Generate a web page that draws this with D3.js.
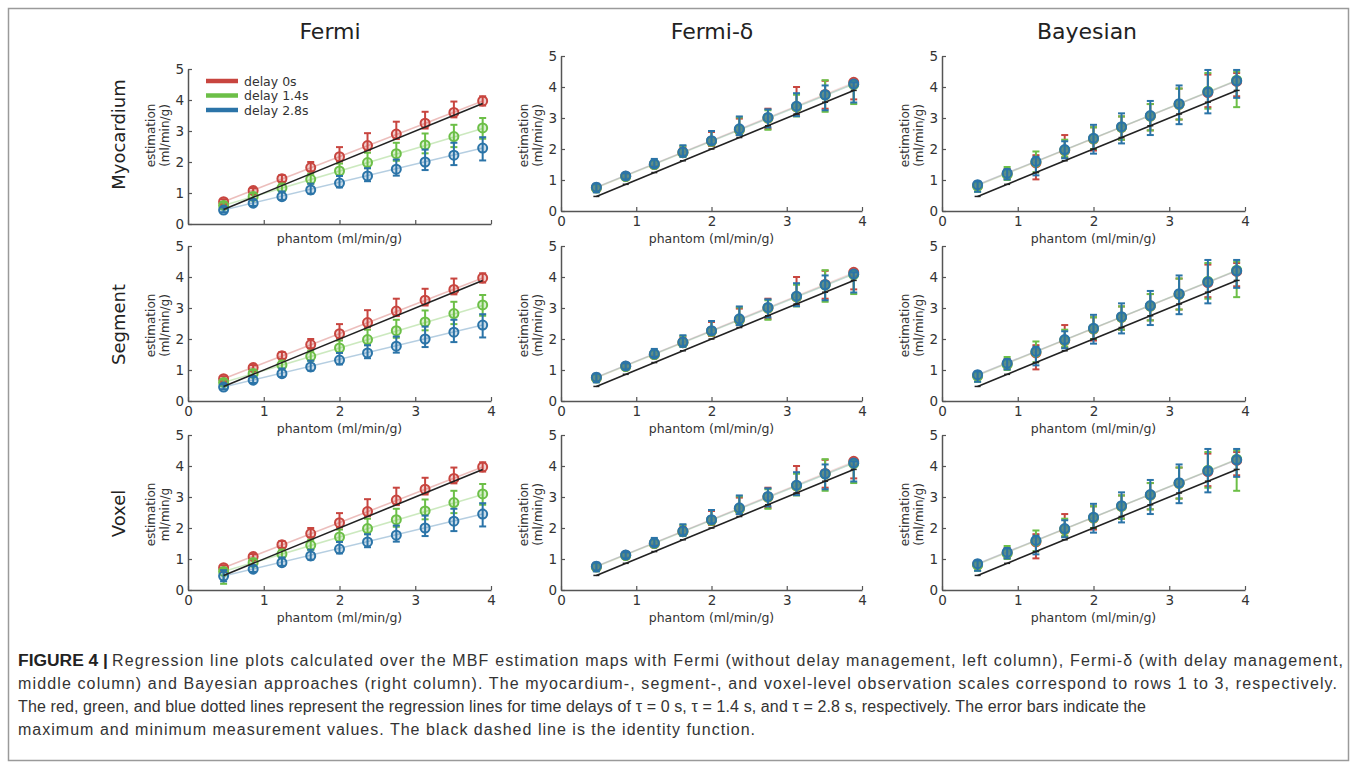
<!DOCTYPE html>
<html>
<head>
<meta charset="utf-8">
<script src="https://cdn.jsdelivr.net/npm/d3@7"></script>
<style>
  body { margin: 0; background: #fff; }
  svg { display: block; }
</style>
</head>
<body>
<div id="chart-area"></div>
<script>
// ---------------- data ----------------
var phantom = [0.47, 0.86, 1.24, 1.62, 2.0, 2.37, 2.75, 3.13, 3.51, 3.89];
var columns = ["Fermi", "Fermi-δ", "Bayesian"];
var rowNames = ["Myocardium", "Segment", "Voxel"];
var legendLabels = ["delay 0s", "delay 1.4s", "delay 2.8s"];
var xTicks = [0, 1, 2, 3, 4];
var yTicks = [0, 1, 2, 3, 4, 5];

// Fermi (no delay management)
var fermiRed = [0.72, 1.08, 1.46, 1.82, 2.17, 2.53, 2.90, 3.25, 3.60, 3.97];
var fermiRedLo = [0.64, 1.00, 1.36, 1.70, 2.02, 2.38, 2.74, 3.08, 3.44, 3.82];
var fermiRedHi = [0.80, 1.16, 1.58, 2.00, 2.48, 2.93, 3.30, 3.62, 3.95, 4.12];
var fermiGreen = [0.60, 0.89, 1.16, 1.44, 1.71, 1.98, 2.27, 2.55, 2.82, 3.10];
var fermiGreenLo = [0.50, 0.80, 1.04, 1.30, 1.55, 1.80, 2.04, 2.28, 2.48, 2.75];
var fermiGreenHi = [0.70, 1.00, 1.30, 1.62, 1.95, 2.30, 2.62, 2.92, 3.20, 3.42];
var fermiBlue = [0.45, 0.67, 0.88, 1.10, 1.32, 1.55, 1.77, 2.00, 2.22, 2.45];
var fermiBlueLo = [0.38, 0.58, 0.78, 0.98, 1.18, 1.38, 1.56, 1.74, 1.90, 2.05];
var fermiBlueHi = [0.54, 0.78, 1.05, 1.30, 1.55, 1.80, 2.08, 2.40, 2.62, 2.80];
// voxel level has wider bars at the first point
var fermiVoxGreenLo = [0.20, 0.80, 1.04, 1.30, 1.55, 1.80, 2.04, 2.28, 2.48, 2.75];
var fermiVoxBlueLo = [0.28, 0.58, 0.78, 0.98, 1.18, 1.38, 1.56, 1.74, 1.90, 2.05];
var fermiVoxBlueHi = [0.64, 0.78, 1.05, 1.30, 1.55, 1.80, 2.08, 2.40, 2.62, 2.80];

// Fermi-delta
var fdRed = [0.75, 1.12, 1.50, 1.88, 2.25, 2.62, 3.00, 3.36, 3.76, 4.15];
var fdRedLo = [0.65, 1.05, 1.45, 1.80, 2.10, 2.45, 2.65, 3.10, 3.30, 3.60];
var fdRedHi = [0.85, 1.20, 1.62, 2.05, 2.55, 2.98, 3.30, 4.00, 4.20, 4.20];
var fdGreen = [0.74, 1.11, 1.50, 1.88, 2.25, 2.62, 3.00, 3.36, 3.74, 4.08];
var fdGreenLo = [0.62, 1.02, 1.40, 1.75, 2.12, 2.45, 2.62, 3.05, 3.20, 3.45];
var fdGreenHi = [0.86, 1.22, 1.65, 2.10, 2.58, 3.02, 3.25, 3.75, 4.22, 4.18];
var fdBlue = [0.77, 1.13, 1.52, 1.90, 2.27, 2.65, 3.02, 3.38, 3.75, 4.10];
var fdBlueLo = [0.60, 1.02, 1.42, 1.75, 2.15, 2.45, 2.70, 3.06, 3.25, 3.50];
var fdBlueHi = [0.88, 1.22, 1.68, 2.12, 2.58, 3.05, 3.28, 3.80, 4.05, 4.15];

// Bayesian
var bayRed = [0.82, 1.20, 1.55, 1.95, 2.32, 2.70, 3.06, 3.44, 3.82, 4.18];
var bayRedLo = [0.70, 1.05, 1.02, 1.72, 1.95, 2.30, 2.60, 2.95, 3.35, 3.70];
var bayRedHi = [0.92, 1.35, 1.80, 2.45, 2.70, 3.05, 3.45, 3.95, 4.40, 4.45];
var bayGreen = [0.80, 1.18, 1.58, 1.96, 2.33, 2.70, 3.06, 3.44, 3.86, 4.22];
var bayGreenLo = [0.62, 1.00, 1.25, 1.75, 2.00, 2.30, 2.60, 2.95, 3.30, 3.35];
var bayGreenHi = [0.92, 1.42, 1.92, 2.30, 2.70, 3.05, 3.45, 3.95, 4.45, 4.50];
var bayBlue = [0.85, 1.22, 1.60, 1.98, 2.35, 2.72, 3.08, 3.46, 3.84, 4.20];
var bayBlueLo = [0.62, 1.02, 1.15, 1.70, 1.85, 2.18, 2.45, 2.80, 3.15, 3.65];
var bayBlueHi = [0.95, 1.35, 1.75, 2.25, 2.78, 3.15, 3.55, 4.05, 4.55, 4.55];
var bayVoxGreenLo = [0.62, 1.00, 1.25, 1.75, 2.00, 2.30, 2.60, 2.95, 3.30, 3.20];

// regression line ends (value at first and last phantom point)
var fermiReg = [[0.72, 3.97], [0.60, 3.08], [0.45, 2.45]];
var fdReg = [[0.76, 4.14], [0.75, 4.10], [0.77, 4.10]];
var bayReg = [[0.84, 4.20], [0.82, 4.22], [0.85, 4.20]];

var colors = ["#c8453f", "#6cbf47", "#2b74a8"];

// series per panel [red, green, blue] -> {m, lo, hi}
function S(m, lo, hi) { return { m: m, lo: lo, hi: hi }; }
var fermiSeries = [S(fermiRed, fermiRedLo, fermiRedHi), S(fermiGreen, fermiGreenLo, fermiGreenHi), S(fermiBlue, fermiBlueLo, fermiBlueHi)];
var fermiVoxSeries = [S(fermiRed, fermiRedLo, fermiRedHi), S(fermiGreen, fermiVoxGreenLo, fermiGreenHi), S(fermiBlue, fermiVoxBlueLo, fermiVoxBlueHi)];
var fdSeries = [S(fdRed, fdRedLo, fdRedHi), S(fdGreen, fdGreenLo, fdGreenHi), S(fdBlue, fdBlueLo, fdBlueHi)];
var baySeries = [S(bayRed, bayRedLo, bayRedHi), S(bayGreen, bayGreenLo, bayGreenHi), S(bayBlue, bayBlueLo, bayBlueHi)];
var bayVoxSeries = [S(bayRed, bayRedLo, bayRedHi), S(bayGreen, bayVoxGreenLo, bayGreenHi), S(bayBlue, bayBlueLo, bayBlueHi)];

var panelSeries = [
  [fermiSeries, fdSeries, baySeries],
  [fermiSeries, fdSeries, baySeries],
  [fermiVoxSeries, fdSeries, bayVoxSeries]
];
var panelReg = [fermiReg, fdReg, bayReg];

var captionBold = "FIGURE 4 |";
var captionLines = [
  "Regression line plots calculated over the MBF estimation maps with Fermi (without delay management, left column), Fermi-δ (with delay management,",
  "middle column) and Bayesian approaches (right column). The myocardium-, segment-, and voxel-level observation scales correspond to rows 1 to 3, respectively.",
  "The red, green, and blue dotted lines represent the regression lines for time delays of τ = 0 s, τ = 1.4 s, and τ = 2.8 s, respectively. The error bars indicate the",
  "maximum and minimum measurement values. The black dashed line is the identity function."
];

// ---------------- layout ----------------
var W = 1357, H = 769;
var colX = [[188, 491], [561, 862], [942, 1245]];
var rowY = [[211, 56], [401, 246], [590, 435]];
var titleX = [330, 712, 1087];

var svg = d3.select("#chart-area").append("svg")
    .attr("width", W)
    .attr("height", H);

svg.append("rect")
    .attr("x", 8.5).attr("y", 8.5)
    .attr("width", 1340).attr("height", 752)
    .attr("fill", "none")
    .attr("stroke", "#9a9a9a")
    .attr("stroke-width", 1.5);

var FONT = "'DejaVu Sans', Verdana, sans-serif";

// column titles
columns.forEach(function(c, i) {
  svg.append("text")
      .attr("x", titleX[i]).attr("y", 39)
      .attr("text-anchor", "middle")
      .style("font-family", FONT)
      .style("font-size", "22px")
      .attr("fill", "#222")
      .text(c);
});

// row labels
rowNames.forEach(function(r, i) {
  var mid = (rowY[i][0] + rowY[i][1]) / 2 + 1;
  svg.append("text")
      .attr("transform", "translate(125," + mid + ") rotate(-90)")
      .attr("text-anchor", "middle")
      .style("font-family", FONT)
      .style("font-size", "18px")
      .attr("fill", "#222")
      .text(r);
});

rowNames.forEach(function(r, ri) {
  columns.forEach(function(c, ci) {
    // first panel of the top row sits slightly lower in the figure
    var shift = (ri === 0 && ci === 0) ? 13 : 0;
    var x = d3.scaleLinear().domain([0, 4]).range(colX[ci]);
    var y = d3.scaleLinear().domain([0, 5]).range([rowY[ri][0] + shift, rowY[ri][1] + shift]);
    var g = svg.append("g");

    // axes (MATLAB style: ticks inside)
    var xAxis = g.append("g")
        .attr("transform", "translate(0," + y(0) + ")")
        .call(d3.axisBottom(x).tickValues(xTicks).tickFormat(d3.format("d"))
          .tickSizeInner(-4).tickSizeOuter(0).tickPadding(5));
    var yAxis = g.append("g")
        .attr("transform", "translate(" + x(0) + ",0)")
        .call(d3.axisLeft(y).tickValues(yTicks).tickFormat(d3.format("d"))
          .tickSizeInner(-4).tickSizeOuter(0).tickPadding(4));
    [xAxis, yAxis].forEach(function(a) {
      a.select(".domain").attr("stroke", "#555").attr("stroke-width", 1.5);
      a.selectAll(".tick line").attr("stroke", "#555").attr("stroke-width", 1.2);
      a.selectAll(".tick text")
          .style("font-family", FONT)
          .style("font-size", "13.5px")
          .attr("fill", "#333");
    });
    if (shift) xAxis.selectAll(".tick text").remove();

    // axis titles
    var yl = (rowY[ri][0] + rowY[ri][1]) / 2 + 2;
    var unitText = ri === 2 && ci === 0 ? "ml/min/g" : "(ml/min/g)";
    g.append("text")
        .attr("transform", "translate(" + (colX[ci][0] - 33) + "," + yl + ") rotate(-90)")
        .attr("text-anchor", "middle")
        .style("font-family", FONT).style("font-size", "12px")
        .attr("fill", "#333")
        .text("estimation");
    g.append("text")
        .attr("transform", "translate(" + (colX[ci][0] - 19) + "," + yl + ") rotate(-90)")
        .attr("text-anchor", "middle")
        .style("font-family", FONT).style("font-size", "12px")
        .attr("fill", "#333")
        .text(unitText);
    g.append("text")
        .attr("x", (colX[ci][0] + colX[ci][1]) / 2)
        .attr("y", rowY[ri][0] + 32)
        .attr("text-anchor", "middle")
        .style("font-family", FONT).style("font-size", "12.5px")
        .attr("fill", "#333")
        .text("phantom (ml/min/g)");

    var series = panelSeries[ri][ci];
    var reg = panelReg[ci];
    var first = phantom[0], last = phantom[phantom.length - 1];

    // regression lines
    reg.forEach(function(r, k) {
      g.append("line")
          .attr("x1", x(first)).attr("y1", y(r[0]))
          .attr("x2", x(last)).attr("y2", y(r[1]))
          .attr("stroke", colors[k])
          .attr("stroke-opacity", ci === 0 ? 0.35 : 0.18)
          .attr("stroke-width", 1.6);
    });

    // error bars and markers
    series.forEach(function(s, k) {
      var sg = g.append("g").attr("stroke", colors[k]);
      phantom.forEach(function(px, i) {
        var cx = x(px);
        sg.append("line")
            .attr("x1", cx).attr("x2", cx)
            .attr("y1", y(s.lo[i])).attr("y2", y(s.hi[i]))
            .attr("stroke-width", 2);
        [s.lo[i], s.hi[i]].forEach(function(v) {
          sg.append("line")
              .attr("x1", cx - 3.5).attr("x2", cx + 3.5)
              .attr("y1", y(v)).attr("y2", y(v))
              .attr("stroke-width", 2);
        });
      });
      sg.selectAll("circle")
          .data(s.m)
          .enter().append("circle")
          .attr("cx", function(d, i) { return x(phantom[i]); })
          .attr("cy", function(d) { return y(d); })
          .attr("r", 4.5)
          .attr("fill", colors[k])
          .attr("fill-opacity", ci === 0 ? 0.25 : 0.55)
          .attr("stroke-width", 2);
    });

    // identity line with small phantom markers
    g.append("line")
        .attr("x1", x(first)).attr("y1", y(first))
        .attr("x2", x(last)).attr("y2", y(last))
        .attr("stroke", "#222")
        .attr("stroke-width", 1.6);
    if (ci > 0) {
      phantom.forEach(function(px) {
        g.append("line")
            .attr("x1", x(px) - 3).attr("x2", x(px) + 3)
            .attr("y1", y(px)).attr("y2", y(px))
            .attr("stroke", "#222").attr("stroke-width", 1.5);
      });
    }

    // legend in the first panel
    if (ri === 0 && ci === 0) {
      legendLabels.forEach(function(l, k) {
        var ly = 81 + k * 14.5;
        g.append("line")
            .attr("x1", 206).attr("x2", 238)
            .attr("y1", ly).attr("y2", ly)
            .attr("stroke", colors[k])
            .attr("stroke-width", 4.5);
        g.append("text")
            .attr("x", 244).attr("y", ly + 4.5)
            .style("font-family", FONT).style("font-size", "12.5px")
            .attr("fill", "#333")
            .text(l);
      });
    }
  });
});

// caption
var CAP = "'Liberation Sans Narrow', 'Liberation Sans', Arial, sans-serif";
var capEnds = [1343, 1337, 1146, 755];
var capBase = [666, 689, 712, 735];
svg.append("text")
    .attr("x", 18).attr("y", capBase[0])
    .attr("textLength", 90).attr("lengthAdjust", "spacingAndGlyphs")
    .style("font-family", CAP).style("font-size", "16px").style("font-weight", "bold")
    .attr("fill", "#222")
    .text(captionBold);
captionLines.forEach(function(t, i) {
  var x0 = i === 0 ? 112 : 18;
  svg.append("text")
      .attr("x", x0).attr("y", capBase[i])
      .attr("textLength", capEnds[i] - x0).attr("lengthAdjust", "spacing")
      .style("font-family", CAP).style("font-size", "16px")
      .attr("fill", "#333")
      .text(t);
});
</script>
</body>
</html>
